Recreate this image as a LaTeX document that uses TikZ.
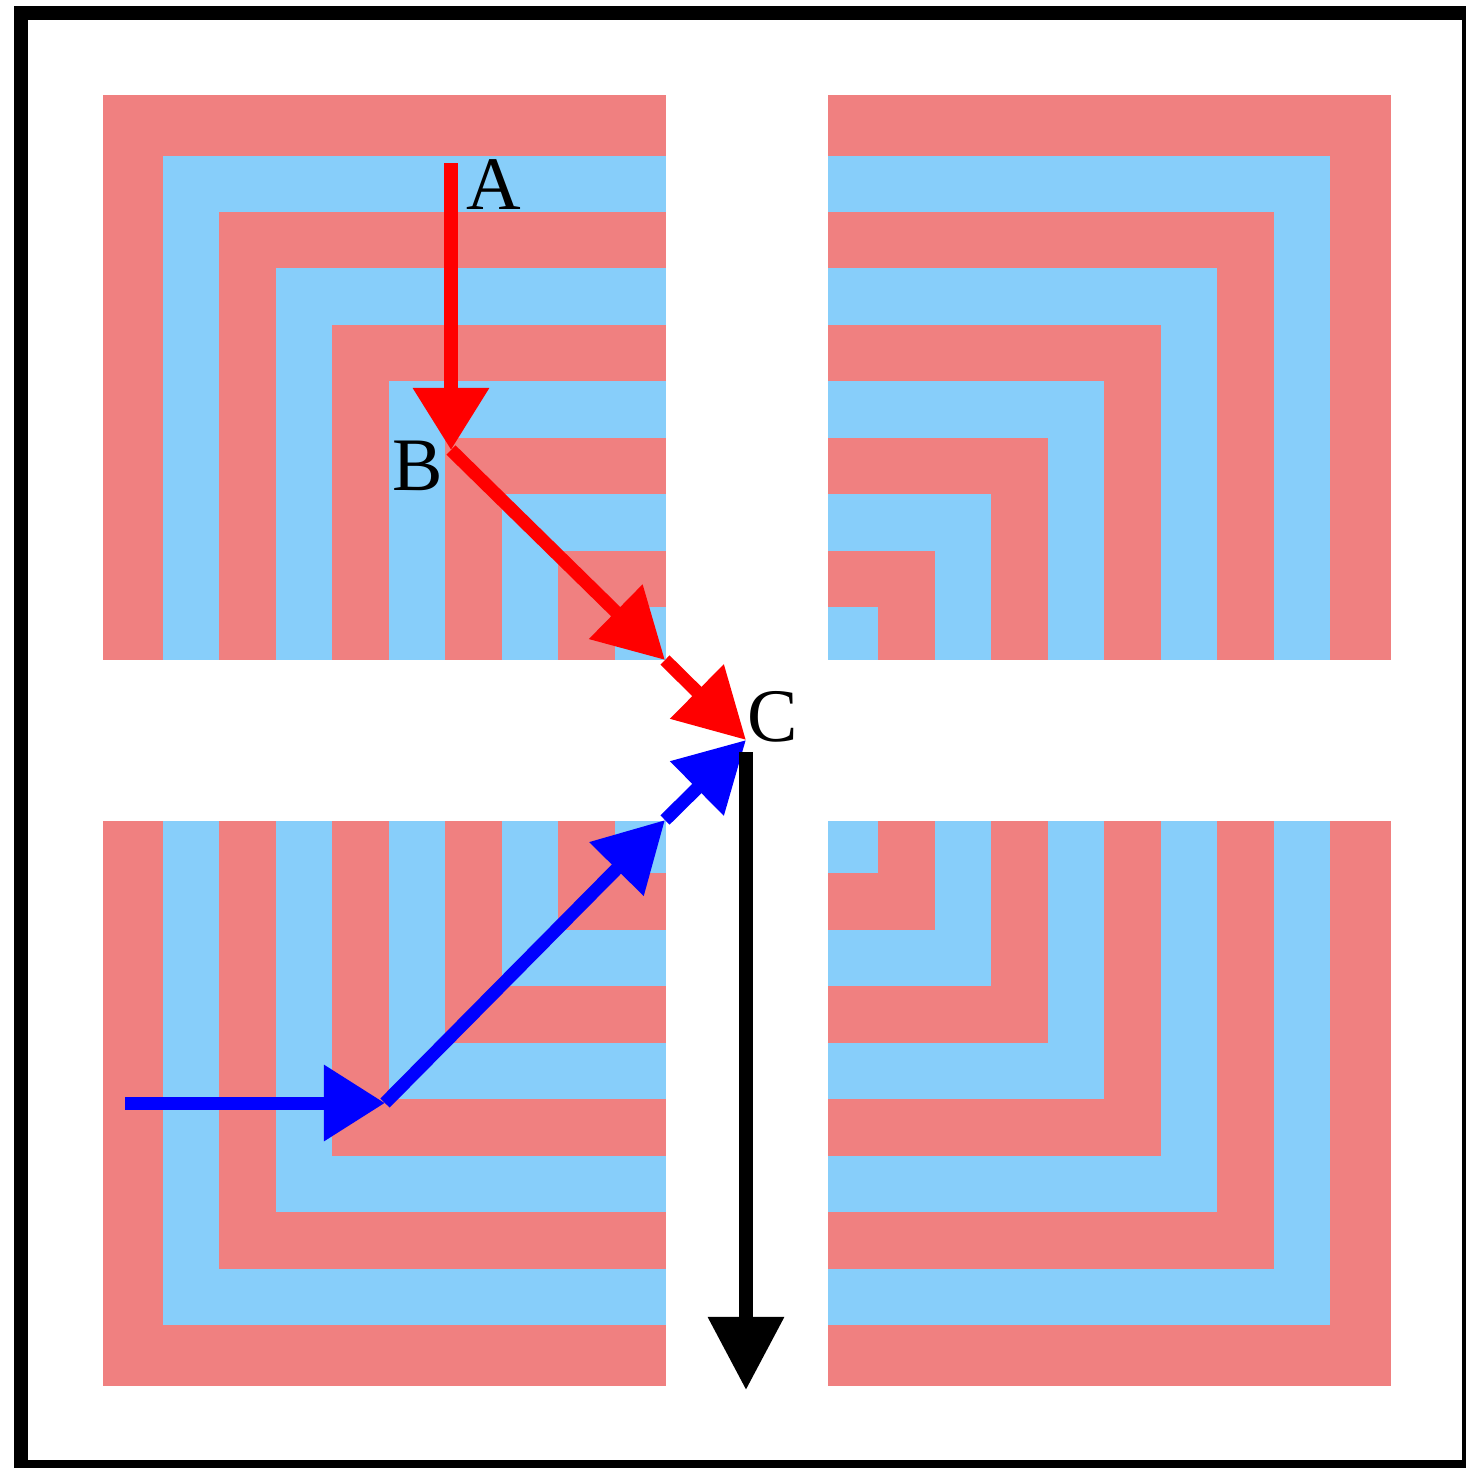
\documentclass[tikz,border=0pt]{standalone}
\usepackage{fontspec}
\setmainfont{Liberation Serif}
\usetikzlibrary{arrows.meta}
\definecolor{coral}{HTML}{F08080}
\definecolor{sky}{HTML}{87CEFA}
\definecolor{pathred}{HTML}{FF0000}
\definecolor{pathblue}{HTML}{0000FF}

\begin{document}
\begin{tikzpicture}[x=0.01cm,y=-0.01cm,
  flow/.style={line width=0.13cm},
  arrowhd/.style={-{Triangle[length=#1,width=0.73cm]}},
  lbl/.style={font=\fontsize{21.5}{24}\selectfont,inner sep=0pt}]
\useasboundingbox (0,0) rectangle (1466,1468);
\clip (0,0) rectangle (1466,1468);
\draw[line width=0.14cm] (21,13) rectangle (1469,1467);
% four blocks of nested L stripes, corner on the outside
\foreach \ox/\oy/\sx/\sy in {102.5/95/1/1,1390.5/95/-1/1,102.5/1385.5/1/-1,1390.5/1385.5/-1/-1}{
  \foreach \k in {0,2,...,8}{
    \pgfmathsetmacro\da{\k==0 ? 0 : 60.5+56.45*(\k-1)}
    \pgfmathsetmacro\db{60.5+56.45*\k}
    \fill[coral] ({\ox+\sx*\da},{\oy+\sy*\da}) rectangle ({\ox+\sx*563},{\oy+\sy*565});
    \fill[sky] ({\ox+\sx*\db},{\oy+\sy*\db}) rectangle ({\ox+\sx*563},{\oy+\sy*565});
  }
}
\coordinate (A) at (451,163); \coordinate (B) at (451,450);
\coordinate (P) at (665,660); \coordinate (C) at (746,740);
\coordinate (S) at (125,1103); \coordinate (D) at (385,1103);
\coordinate (Q) at (665,820);
\coordinate (T) at (746,752); \coordinate (E) at (746,1390);
\draw[flow,pathred,arrowhd=0.62cm] (A) -- (B);
\draw[flow,pathred,arrowhd=0.69cm] (B) -- (P);
\draw[flow,pathred,arrowhd=0.69cm] (P) -- (C);
\draw[flow,pathblue,arrowhd=0.61cm] (S) -- (D);
\draw[flow,pathblue,arrowhd=0.69cm] (D) -- (Q);
\draw[flow,pathblue,arrowhd=0.69cm] (Q) -- (C);
\draw[flow,black,arrowhd=0.73cm] (T) -- (E);
\node[lbl] (labA) at (494,185) {A};
\node[lbl] (labB) at (418,466) {B};
\node[lbl] (labC) at (773,717) {C};
\end{tikzpicture}
\end{document}
